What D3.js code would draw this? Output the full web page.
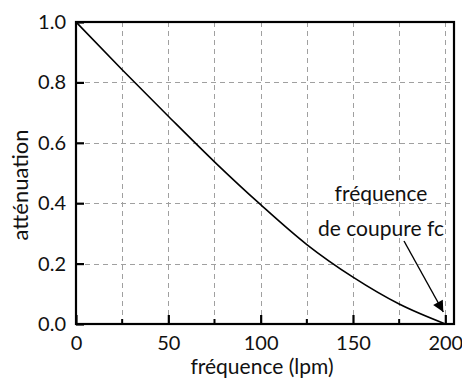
<!DOCTYPE html>
<html><head><meta charset="utf-8">
<script src="https://cdn.jsdelivr.net/npm/d3@7"></script>
<style>body{margin:0;background:#fff}svg{display:block}</style>
</head><body>
<script>
const freq = [0, 25, 50, 75, 100, 125, 150, 175, 200];
const attenuation = [1.0, 0.842, 0.688, 0.537, 0.395, 0.263, 0.155, 0.066, 0.0];
const xTicks = [0, 50, 100, 150, 200];
const xMinor = [25, 75, 125, 175];
const yTicks = [0.0, 0.2, 0.4, 0.6, 0.8, 1.0];
const xTitle = "fréquence (lpm)";
const yTitle = "atténuation";
const noteLines = ["fréquence", "de coupure fc"];
const noteTarget = [200, 0];

const W = 462, H = 378;
const m = {l: 76, r: 8, t: 22, b: 54};
const font = "Lato, 'Open Sans', sans-serif";
const svg = d3.select("body").append("svg").attr("width", W).attr("height", H);
const x = d3.scaleLinear().domain([0, 204.7]).range([m.l, W - m.r]);
const y = d3.scaleLinear().domain([0, 1]).range([H - m.b, m.t]);

// grid
const g = svg.append("g").attr("stroke", "#a0a0a0").attr("stroke-width", 1).attr("stroke-dasharray", "5,4");
g.selectAll(".vx").data(xTicks.concat(xMinor).filter(d => d > 0)).join("line")
  .attr("x1", d => Math.round(x(d)) + 0.5).attr("x2", d => Math.round(x(d)) + 0.5)
  .attr("y1", y(1)).attr("y2", y(0));
g.selectAll(".hy").data(yTicks.filter(d => d > 0 && d < 1)).join("line")
  .attr("y1", d => Math.round(y(d)) + 0.5).attr("y2", d => Math.round(y(d)) + 0.5)
  .attr("x1", x.range()[0]).attr("x2", x.range()[1]);

// curve
const line = d3.line().x((d, i) => x(freq[i])).y(d => y(d)).curve(d3.curveMonotoneX);
svg.append("path").attr("d", line(attenuation)).attr("fill", "none").attr("stroke", "#000").attr("stroke-width", 1.6);

// annotation text with white background
const nx = 381;
const ny = [201, 236];
noteLines.forEach((t, i) => {
  const txt = svg.append("text").attr("x", nx).attr("y", ny[i]).attr("text-anchor", "middle")
    .attr("font-family", font).attr("font-size", 21).attr("fill", "#111").text(t);
  const bb = txt.node().getBBox();
  svg.insert("rect", "text").attr("x", bb.x - 1).attr("y", bb.y + 3).attr("width", bb.width + 2).attr("height", bb.height - 6).attr("fill", "#fff");
});

// arrow
svg.append("defs").append("marker").attr("id", "ah").attr("viewBox", "0 0 10 10").attr("refX", 10).attr("refY", 5)
  .attr("markerWidth", 15).attr("markerHeight", 11).attr("markerUnits", "userSpaceOnUse").attr("orient", "auto")
  .append("path").attr("d", "M0,0L10,5L0,10z").attr("fill", "#000");
svg.append("line").attr("x1", 404).attr("y1", 241).attr("x2", x(noteTarget[0]) - 2).attr("y2", y(noteTarget[1]) - 12)
  .attr("stroke", "#000").attr("stroke-width", 1.4).attr("marker-end", "url(#ah)");

// axes frame
svg.append("rect").attr("x", m.l).attr("y", m.t).attr("width", W - m.r - m.l).attr("height", H - m.b - m.t)
  .attr("fill", "none").attr("stroke", "#000").attr("stroke-width", 2.2);

// ticks
const xAxis = d3.axisBottom(x).tickValues(xTicks).tickSizeInner(-9).tickSizeOuter(0).tickPadding(12).tickFormat(d3.format("d"));
const xa = svg.append("g").attr("transform", `translate(0,${y(0)})`).call(xAxis);
xa.select(".domain").remove();
xa.selectAll(".tick line").attr("stroke-width", 2.2);
xa.selectAll(".tick text").attr("font-family", font).attr("font-size", 20).attr("fill", "#111");
svg.append("g").selectAll("line").data(xMinor).join("line")
  .attr("x1", d => x(d)).attr("x2", d => x(d)).attr("y1", y(0)).attr("y2", y(0) - 5)
  .attr("stroke", "#000").attr("stroke-width", 2);

const yAxis = d3.axisLeft(y).tickValues(yTicks).tickSizeInner(-8).tickSizeOuter(0).tickPadding(10).tickFormat(d3.format(".1f"));
const ya = svg.append("g").attr("transform", `translate(${x(0)},0)`).call(yAxis);
ya.select(".domain").remove();
ya.selectAll(".tick line").attr("stroke-width", 2.2);
ya.selectAll(".tick text").attr("font-family", font).attr("font-size", 20).attr("fill", "#111");

// titles
svg.append("text").attr("x", 262).attr("y", 374).attr("text-anchor", "middle").attr("font-family", font)
  .attr("font-size", 21).attr("fill", "#111").text(xTitle);
svg.append("text").attr("transform", "translate(28,185) rotate(-90)").attr("text-anchor", "middle").attr("font-family", font)
  .attr("font-size", 22).attr("fill", "#111").text(yTitle);
</script>
</body></html>
